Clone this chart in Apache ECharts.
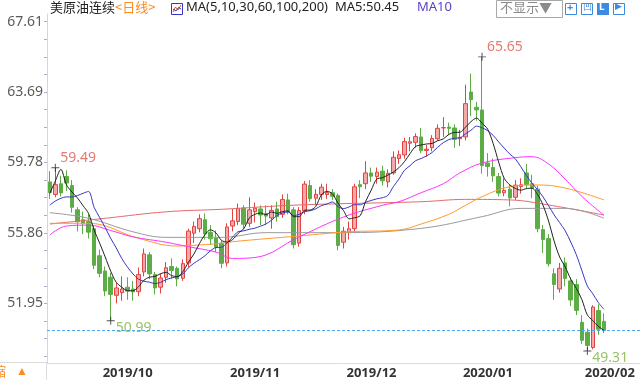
<!DOCTYPE html>
<html><head><meta charset="utf-8">
<script src="https://cdn.jsdelivr.net/npm/echarts@6/dist/echarts.min.js"></script>
<style>html,body{margin:0;padding:0;background:#fff}#c{width:640px;height:380px}</style>
</head><body><div id="c"></div>
<script>
// ---------- data ----------
const dates = [
 '2019-09-18','2019-09-19','2019-09-20','2019-09-23','2019-09-24','2019-09-25','2019-09-26','2019-09-27','2019-09-30',
 '2019-10-01','2019-10-02','2019-10-03','2019-10-04','2019-10-07','2019-10-08','2019-10-09','2019-10-10','2019-10-11','2019-10-14','2019-10-15','2019-10-16','2019-10-17','2019-10-18','2019-10-21','2019-10-22','2019-10-23','2019-10-24','2019-10-25','2019-10-28','2019-10-29','2019-10-30','2019-10-31',
 '2019-11-01','2019-11-04','2019-11-05','2019-11-06','2019-11-07','2019-11-08','2019-11-11','2019-11-12','2019-11-13','2019-11-14','2019-11-15','2019-11-18','2019-11-19','2019-11-20','2019-11-21','2019-11-22','2019-11-25','2019-11-26','2019-11-27','2019-11-28','2019-11-29',
 '2019-12-02','2019-12-03','2019-12-04','2019-12-05','2019-12-06','2019-12-09','2019-12-10','2019-12-11','2019-12-12','2019-12-13','2019-12-16','2019-12-17','2019-12-18','2019-12-19','2019-12-20','2019-12-23','2019-12-24','2019-12-26','2019-12-27','2019-12-30','2019-12-31',
 '2020-01-02','2020-01-03','2020-01-06','2020-01-07','2020-01-08','2020-01-09','2020-01-10','2020-01-13','2020-01-14','2020-01-15','2020-01-16','2020-01-17','2020-01-20','2020-01-21','2020-01-22','2020-01-23','2020-01-24','2020-01-27','2020-01-28','2020-01-29','2020-01-30','2020-01-31',
 '2020-02-03','2020-02-04','2020-02-05','2020-02-06','2020-02-07'
];
const padDates = ['2020-02-10','2020-02-11','2020-02-12','2020-02-13','2020-02-14','2020-02-18'];

const opens = [58.70,58.00,58.60,59.00,58.50,57.15,56.60,56.50,56.10,
 54.60,53.75,53.40,52.40,52.55,52.85,52.75,52.60,53.70,54.65,53.55,52.85,53.40,54.00,53.90,53.35,54.20,55.85,56.10,56.60,55.90,55.60,55.30,
 54.20,56.25,56.50,57.25,56.40,57.05,57.20,56.95,56.70,57.20,56.90,57.70,57.15,55.30,57.10,58.50,57.80,58.00,58.00,58.10,57.95,
 55.35,55.90,56.10,58.55,58.60,59.20,59.00,59.30,58.70,59.20,60.00,60.20,60.85,60.90,61.20,60.45,60.60,61.10,61.70,61.75,61.70,
 61.10,61.20,63.70,62.85,62.70,59.75,59.50,59.00,58.10,58.30,57.85,58.45,59.20,58.60,58.30,56.05,55.55,53.60,52.75,54.20,53.20,53.00,
 50.90,50.35,49.50,51.55,50.95];
const closes = [58.11,58.55,58.09,58.64,57.29,56.49,56.41,55.91,54.07,
 53.62,52.64,52.45,52.81,52.75,52.63,52.59,53.55,54.70,53.59,52.81,53.36,53.93,53.78,53.31,54.16,55.97,56.23,56.66,55.81,55.54,55.06,54.18,
 56.20,56.54,57.23,56.35,57.15,57.24,56.86,56.80,57.12,56.77,57.72,57.05,55.21,57.11,58.58,57.77,58.01,58.41,58.11,57.90,55.17,
 55.96,56.10,58.43,58.43,59.20,59.02,59.24,58.76,59.18,60.07,60.21,60.94,60.93,61.22,60.44,60.52,61.11,61.68,61.72,61.68,61.06,
 61.18,63.05,63.27,62.70,59.61,59.56,59.04,58.08,58.23,57.81,58.52,58.54,58.55,58.34,56.10,55.50,54.15,53.00,53.90,53.33,52.14,51.56,
 49.90,49.61,51.75,50.52,50.45];
const lows = [57.75,57.85,57.90,58.20,57.00,55.95,55.80,55.55,53.85,
 53.40,52.35,50.99,51.95,52.10,52.15,52.10,52.35,53.45,53.30,52.45,52.50,53.10,53.30,52.90,53.20,53.95,55.30,55.90,55.50,55.20,54.80,53.90,
 54.00,55.95,56.30,56.10,56.20,56.45,56.30,56.30,56.10,56.50,56.70,56.90,55.00,55.10,56.90,57.60,57.40,57.70,57.75,57.70,54.90,
 55.00,55.50,55.90,57.80,58.30,58.70,58.60,58.50,58.40,59.10,59.70,60.00,60.40,60.60,60.30,60.10,60.40,61.00,61.20,61.30,60.60,
 60.70,61.00,62.35,62.10,59.15,59.00,58.70,57.90,57.90,57.35,57.70,58.05,58.30,57.80,55.90,54.75,54.00,52.15,52.55,52.90,51.80,51.30,
 49.70,49.31,49.40,50.20,50.30];
const highs = [59.30,59.49,59.05,59.35,58.80,57.30,57.05,56.90,56.30,
 54.95,54.00,53.65,53.10,53.45,53.40,53.20,53.95,55.00,54.80,53.70,53.60,54.25,54.45,54.00,54.40,56.10,56.50,56.90,56.95,56.30,56.00,55.45,
 56.40,57.20,57.50,57.40,57.85,57.55,57.40,57.40,57.40,57.60,58.00,58.05,57.30,57.30,58.75,58.80,58.30,58.60,58.60,58.30,58.05,
 56.20,56.50,58.60,58.80,59.85,59.50,59.50,59.60,59.40,60.40,60.45,61.15,61.20,61.40,61.70,60.75,61.30,61.90,62.30,62.00,61.90,
 61.60,64.10,64.72,63.15,65.65,60.30,60.00,59.20,58.90,58.55,58.80,58.90,59.70,59.10,58.50,56.30,55.80,53.90,54.20,54.50,53.40,53.30,
 51.30,50.55,51.85,51.90,51.40];

const ma5 = [58.06,58.75,59.40,58.55,58.14,57.81,57.38,56.95,56.03,55.30,
 54.53,53.74,53.12,52.85,52.66,52.65,52.87,53.24,53.41,53.45,
 53.60,53.68,53.49,53.44,53.71,54.23,54.69,55.27,55.77,56.04,
 55.86,55.45,55.36,55.50,55.84,56.10,56.69,56.90,56.97,56.88,
 57.03,56.96,57.05,57.09,56.77,56.77,57.13,57.14,57.34,57.98,
 58.18,58.04,57.52,57.11,56.65,56.71,56.82,57.62,58.24,58.86,
 58.93,59.08,59.25,59.49,59.83,60.27,60.67,60.75,60.81,60.84,
 60.99,61.09,61.34,61.45,61.46,61.74,62.05,62.25,61.96,61.64,
 60.84,59.80,58.90,58.54,58.34,58.24,58.33,58.35,58.01,57.41,
 56.53,55.42,54.53,53.98,53.30,52.79,52.17,51.31,50.99,50.67,50.45];
const ma10 = [57.41,57.64,57.79,57.87,57.86,57.94,58.07,58.17,57.29,56.72,
 56.17,55.56,55.03,54.44,53.98,53.59,53.30,53.18,53.13,53.05,
 53.12,53.27,53.37,53.43,53.58,53.92,54.18,54.38,54.60,54.88,
 55.05,55.07,55.31,55.64,55.94,55.98,56.07,56.13,56.24,56.36,
 56.57,56.83,56.98,57.03,56.83,56.90,57.05,57.10,57.21,57.38,
 57.47,57.59,57.33,57.22,57.31,57.44,57.43,57.57,57.67,57.76,
 57.82,57.95,58.44,58.86,59.35,59.60,59.88,60.00,60.15,60.34,
 60.63,60.88,61.05,61.13,61.15,61.37,61.57,61.80,61.71,61.55,
 61.29,60.92,60.58,60.25,59.99,59.54,59.06,58.63,58.28,57.87,
 57.38,56.87,56.44,55.99,55.36,54.66,53.79,52.92,52.48,51.99,51.62];

// longer averages at sample bars (bar index -> value)
const ma30Idx = [0,3,7,11,15,21,25,30,33,37,45,53,60,63,67,71,74,78,84,87,90,93,96,100];
const ma30Val = [55.75,56.25,56.3,56.0,55.65,55.35,55.1,54.8,54.45,54.5,55.65,56.75,57.4,57.6,58.1,58.6,59.2,59.75,60.05,60.1,59.7,58.85,57.9,56.85];
const ma60Idx = [0,7,16,23,27,31,33,45,54,63,67,72,75,78,83,88,93,100];
const ma60Val = [56.4,56.4,55.57,55.14,55.2,55.29,55.38,55.7,55.93,56.03,56.36,56.9,57.4,57.88,58.43,58.53,58.36,57.7];
const ma100Idx = [0,7,15,21,31,39,52,67,78,85,93,100];
const ma100Val = [56.99,56.68,55.93,55.62,55.62,55.88,55.88,56.12,56.77,57.23,57.23,56.68];
const ma200Idx = [0,10,21,31,45,67,75,83,90,100];
const ma200Val = [56.36,56.68,57.04,57.18,57.42,57.6,57.73,57.7,57.42,56.86];

const highMarks = [[1,59.49],[78,65.65]];
const lowMarks = [[11,50.99],[97,49.31]];
const yTickLabels = [51.95,55.86,59.78,63.69,67.61];

// ---------- chart ----------
const FONT = "'Noto Sans','Noto Sans CJK SC',sans-serif";
const allDates = dates.concat(padDates);
const ohlc = opens.map((o,i)=>[o, closes[i], lows[i], highs[i]]);
const isMonthStart = i => i>0 && allDates[i].slice(0,7)!==allDates[i-1].slice(0,7);
const sparse = (idx, vals) => idx.map((k,j)=>[dates[k], vals[j]]);
const step = (yTickLabels[yTickLabels.length-1]-yTickLabels[0])/(yTickLabels.length-1)/4;
const minorTicks = [];
for (let k=-3;k<=16;k++) minorTicks.push(+(yTickLabels[0]+k*step).toFixed(3));
const lastClose = closes[closes.length-1];
const crossPath = 'path://M0 4.4L10 4.4L10 5.6L0 5.6Z M4.4 0L5.6 0L5.6 10L4.4 10Z';

function ma(name, data, color, smooth, z){
  return {name, type:'line', data, symbol:'none', smooth, silent:true, z,
    lineStyle:{width:1, color}, itemStyle:{color}};
}

const chart = echarts.init(document.getElementById('c'));
chart.setOption({
  animation:false,
  backgroundColor:'#ffffff',
  grid:{left:47, right:0, top:14, bottom:17},
  xAxis:{
    type:'category', data:allDates, boundaryGap:true,
    axisLine:{lineStyle:{color:'#dcdcdc'}},
    axisTick:{alignWithLabel:true, interval:(i)=>isMonthStart(i), length:4, lineStyle:{color:'#cfcfcf'}},
    axisLabel:{interval:(i)=>isMonthStart(i), formatter:v=>v.slice(0,4)+'/'+v.slice(5,7),
      align:'left', padding:[0,0,0,3], color:'#333', fontWeight:'bold', fontSize:13, margin:4, fontFamily:FONT},
    splitLine:{show:false}
  },
  yAxis:{
    type:'value', min:48.638, max:68.032,
    axisLine:{show:true, lineStyle:{color:'#cad8ea'}},
    axisTick:{show:true, length:3, customValues:minorTicks, lineStyle:{color:'#9fb1c8'}},
    axisLabel:{customValues:yTickLabels, formatter:v=>v.toFixed(2), color:'#5a5a5a', fontSize:14, margin:4, fontFamily:FONT},
    splitLine:{show:false}
  },
  series:[
    {type:'candlestick', data:ohlc, barWidth:4, z:2,
      itemStyle:{color:'#f4a9a9', color0:'#5cad46', borderColor:'#e24444', borderColor0:'#5cad46', borderWidth:1},
      markLine:{silent:true, symbol:['none','none'], label:{show:false},
        lineStyle:{type:[3,2], color:'#4ea6f7', width:1}, data:[{yAxis:lastClose}]}
    },
    ma('MA200', sparse(ma200Idx, ma200Val), '#e66a6a', 0.4, 3),
    ma('MA100', sparse(ma100Idx, ma100Val), '#9a9a9a', 0.4, 3),
    ma('MA60', sparse(ma60Idx, ma60Val), '#ff9a2e', 0.4, 3),
    ma('MA30', sparse(ma30Idx, ma30Val), '#ff33ff', 0.4, 4),
    ma('MA10', ma10, '#3636c4', 0.3, 5),
    ma('MA5', ma5, '#222222', 0.3, 6),
    {type:'scatter', data:highMarks.map(([i,v])=>[dates[i],v]), symbol:crossPath, symbolSize:8, z:8, silent:true,
      itemStyle:{color:'#222'},
      label:{show:true, formatter:p=>p.value[1].toFixed(2), position:[9,-13], color:'#e2564c', fontSize:14, fontFamily:FONT}},
    {type:'scatter', data:lowMarks.map(([i,v])=>[dates[i],v]), symbol:crossPath, symbolSize:8, z:8, silent:true,
      itemStyle:{color:'#222'},
      label:{show:true, formatter:p=>p.value[1].toFixed(2), position:[9,4], color:'#7cb342', fontSize:14, fontFamily:FONT}}
  ],
  graphic:[
    {type:'text', left:50, top:1, style:{text:'美原油连续', fill:'#222', font:"13px 'Noto Sans CJK SC'"}},
    {type:'text', left:115, top:1, style:{text:'<日线>', fill:'#ff8a1e', font:"13px 'Noto Sans CJK SC'"}},
    {type:'rect', shape:{x:171.5, y:3.5, width:11, height:11}, style:{fill:'#fff', stroke:'#3636c4', lineWidth:1}},
    {type:'polyline', shape:{points:[[173,12],[175.5,7],[178,10],[181,5]]}, style:{stroke:'#e34848', lineWidth:1, fill:null}},
    {type:'polyline', shape:{points:[[173,9],[176,11],[178.5,7.5],[181,9]]}, style:{stroke:'#3636c4', lineWidth:1, fill:null}},
    {type:'text', left:186, top:1, style:{text:'MA(5,10,30,60,100,200)', fill:'#222', font:"13px 'Noto Sans'"}},
    {type:'text', left:335, top:1, style:{text:'MA5:'+ma5[ma5.length-1].toFixed(2), fill:'#222', font:"13px 'Noto Sans'"}},
    {type:'text', left:417, top:1, style:{text:'MA10', fill:'#5a3ec8', font:"13px 'Noto Sans'"}},
    {type:'rect', shape:{x:496.5, y:0.5, width:66, height:17}, style:{fill:'#fff', stroke:'#a8a8a8', lineWidth:1}},
    {type:'text', left:500, top:1, style:{text:'不显示▼', fill:'#8a8a8a', font:"13px 'Noto Sans CJK SC'"}},
    {type:'rect', shape:{x:565.5, y:3.5, width:11, height:11}, style:{fill:'#fff', stroke:'#3d8be0', lineWidth:1}},
    {type:'text', left:567, top:2, style:{text:'+', fill:'#3d8be0', font:"bold 11px 'Noto Sans'"}},
    {type:'rect', shape:{x:581.5, y:3.5, width:11, height:11}, style:{fill:'#fff', stroke:'#3d8be0', lineWidth:1}},
    {type:'text', left:583, top:2, style:{text:'凹', fill:'#3d8be0', font:"9px 'Noto Sans CJK SC'"}},
    {type:'rect', shape:{x:597, y:3, width:12, height:12}, style:{fill:'#3d8be0'}},
    {type:'text', left:599, top:2, style:{text:'L', fill:'#fff', font:"bold 10px 'Noto Sans'"}},
    {type:'rect', shape:{x:613.5, y:3.5, width:11, height:11}, style:{fill:'#fff', stroke:'#3d8be0', lineWidth:1}},
    {type:'text', left:615, top:2, style:{text:'▶', fill:'#3d8be0', font:"9px 'Noto Sans'"}},
    {type:'line', shape:{x1:0, y1:362.5, x2:47, y2:362.5}, style:{stroke:'#dcdcdc', lineWidth:1}},
    {type:'line', shape:{x1:46.5, y1:363, x2:46.5, y2:380}, style:{stroke:'#dcdcdc', lineWidth:1}},
    {type:'text', left:-7, top:365, style:{text:'缩', fill:'#ff8a1e', font:"13px 'Noto Sans CJK SC'"}},
    {type:'text', left:16, top:366, style:{text:'▲', fill:'#ff8a1e', font:"12px 'Noto Sans'"}}
  ]
});
</script></body></html>
